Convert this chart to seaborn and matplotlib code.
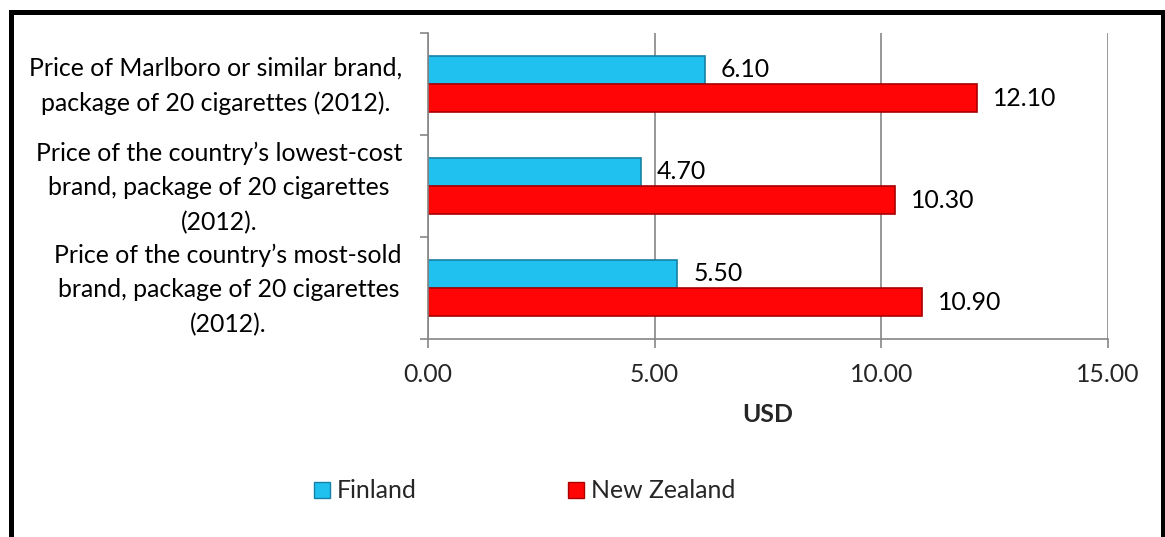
import matplotlib
matplotlib.use("Agg")
import matplotlib.pyplot as plt
import matplotlib.patches as mpatches
import matplotlib.transforms as mtransforms
import seaborn as sns
import pandas as pd

categories = [
    "Price of Marlboro or similar brand,\npackage of 20 cigarettes (2012).",
    "Price of the country\u2019s lowest-cost\nbrand, package of 20 cigarettes\n(2012).",
    "Price of the country\u2019s most-sold\nbrand, package of 20 cigarettes\n(2012).",
]
countries = ["Finland", "New Zealand"]
finland = [6.10, 4.70, 5.50]
new_zealand = [12.10, 10.30, 10.90]
x_ticks = [0, 5, 10, 15]
x_label = "USD"

colors = {"Finland": "#20C0EF", "New Zealand": "#FF0505"}
edges = {"Finland": "#1680A6", "New Zealand": "#A80000"}

df = pd.DataFrame({
    "category": categories * 2,
    "country": ["Finland"] * 3 + ["New Zealand"] * 3,
    "value": finland + new_zealand,
})

sns.set_theme(style="white")
plt.rcParams["font.family"] = ["Lato", "DejaVu Sans"]
FS = 17.9

W, H = 1165, 537
fig = plt.figure(figsize=(W / 100, H / 100), dpi=100)
ax = fig.add_axes([428 / W, 1 - 339 / H, 680 / W, 306 / H])

sns.barplot(data=df, y="category", x="value", hue="country", orient="h",
            order=categories, hue_order=countries, palette=colors,
            width=0.55, ax=ax, legend=False, saturation=1)

for cont, c in zip(ax.containers, countries):
    for p in cont:
        p.set_edgecolor(edges[c])
        p.set_linewidth(1.2)
    ax.bar_label(cont, fmt="%.2f", padding=11.5, fontsize=FS, color="black")

ax.set_xlim(0, 15)
ax.set_ylim(2.5, -0.5)
ax.set_xticks(x_ticks)
ax.set_xticklabels([f"{v:.2f}" for v in x_ticks], fontsize=FS)
ax.xaxis.grid(True, color="#868686", linewidth=1.2)
ax.set_axisbelow(True)

ax.set_yticks([-0.5, 0.5, 1.5, 2.5])
ax.set_yticklabels([])
trans = mtransforms.blended_transform_factory(ax.transAxes, ax.transData)
for i, cat in enumerate(categories):
    ax.text(-26 / 680, i + 0.02, cat, transform=trans, ha="right", va="center",
            multialignment="center", linespacing=1.6, fontsize=FS, color="black")
ax.tick_params(axis="y", which="major", length=6, width=1.2, color="#868686", left=True)
ax.tick_params(axis="x", length=6.5, width=1.2, color="#868686", bottom=True, pad=11)

ax.set_xlabel(x_label, fontsize=FS, fontweight="bold", labelpad=12)
ax.set_ylabel("")

for s in ["top", "right"]:
    ax.spines[s].set_visible(False)
for s in ["left", "bottom"]:
    ax.spines[s].set_color("#868686")
    ax.spines[s].set_linewidth(1.2)

handles = [mpatches.Patch(facecolor=colors[c], edgecolor=edges[c], label=c) for c in countries]
fig.legend(handles=handles, loc="center", bbox_to_anchor=(524.5 / W, 1 - 491 / H),
           ncol=2, frameon=False, fontsize=FS, handlelength=0.64, handleheight=0.64,
           handletextpad=0.28, columnspacing=6.1)

border = mpatches.Rectangle((10.5 / W, -0.1), (1162.5 - 10.5) / W, 1.1 - 12 / H,
                            transform=fig.transFigure, fill=False, edgecolor="black",
                            linewidth=3.6, clip_on=False)
fig.patches.append(border)

fig.savefig("out.png", dpi=100)
